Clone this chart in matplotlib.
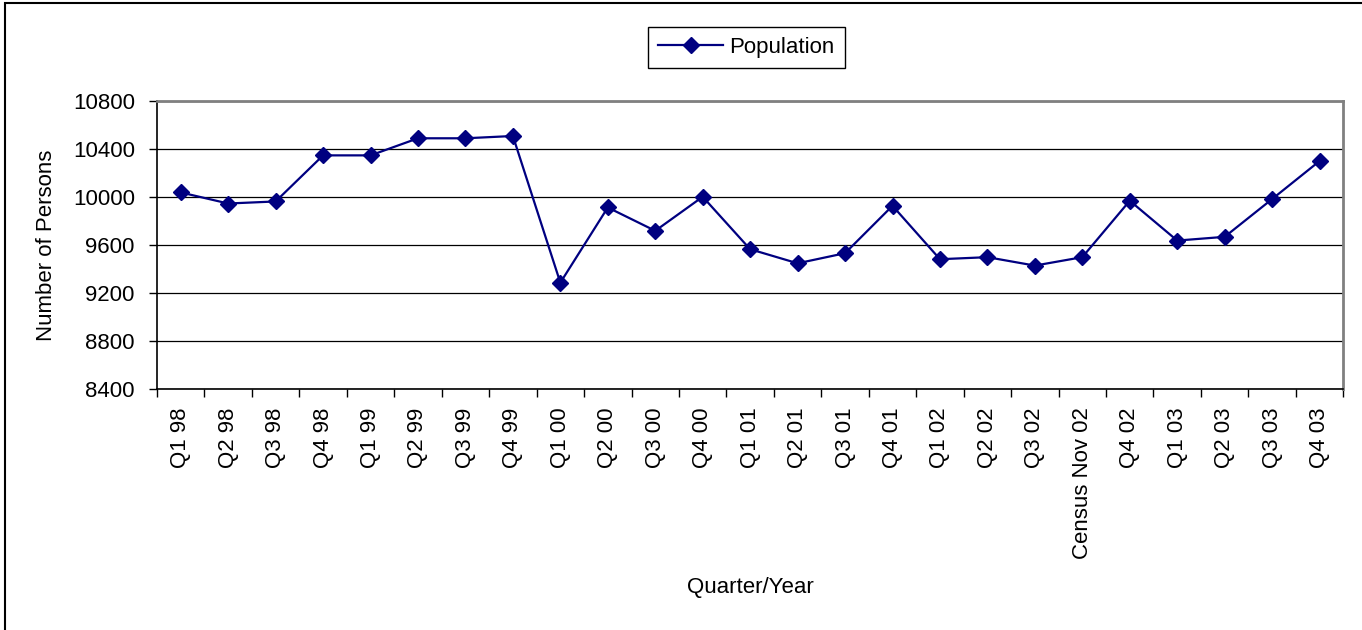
import matplotlib
matplotlib.use("Agg")
import matplotlib.pyplot as plt
import matplotlib.patches as patches
import numpy as np

plt.rcParams['font.family'] = ['Liberation Sans', 'DejaVu Sans']

# data
quarters = ["Q1 98", "Q2 98", "Q3 98", "Q4 98", "Q1 99", "Q2 99", "Q3 99", "Q4 99",
            "Q1 00", "Q2 00", "Q3 00", "Q4 00", "Q1 01", "Q2 01", "Q3 01", "Q4 01",
            "Q1 02", "Q2 02", "Q3 02", "Census Nov 02", "Q4 02", "Q1 03", "Q2 03",
            "Q3 03", "Q4 03"]
population = [10036, 9944, 9961, 10344, 10344, 10486, 10486, 10505,
              9286, 9911, 9717, 10000, 9564, 9447, 9531, 9925,
              9481, 9498, 9428, 9498, 9967, 9636, 9667, 9981, 10297]
yticks = [8400, 8800, 9200, 9600, 10000, 10400, 10800]

W, H = 1362, 630
FS = 16
fig = plt.figure(figsize=(W / 100, H / 100), dpi=100)
ax = fig.add_axes([157 / W, 1 - 389.3 / H, (1343.3 - 157) / W, (389.3 - 100.5) / H])

x = np.arange(len(quarters))
ax.plot(x, population, color="#000080", lw=1.6, marker="D", markersize=8,
        label="Population", zorder=3)

ax.set_xlim(-0.5, len(quarters) - 0.5)
ax.set_ylim(8400, 10800)
ax.set_yticks(yticks)
ax.set_yticklabels([str(v) for v in yticks], fontsize=FS)

# ticks at category boundaries, labels centred on categories
ax.set_xticks(np.arange(-0.5, len(quarters)), labels=[])
ax.set_xticks(x, labels=quarters, minor=True)
ax.tick_params(axis="x", which="major", length=6, width=1, direction="out")
ax.tick_params(axis="x", which="minor", length=0, pad=13, labelsize=FS, labelrotation=90)
ax.tick_params(axis="y", length=6, width=1, pad=10)
for lab in ax.get_xticklabels(minor=True):
    lab.set_verticalalignment("top")

ax.yaxis.grid(True, color="#000000", lw=0.9)
ax.set_axisbelow(True)

ax.spines["top"].set_color("#808080")
ax.spines["right"].set_color("#808080")
ax.spines["top"].set_linewidth(2)
ax.spines["right"].set_linewidth(2)
ax.spines["left"].set_linewidth(1.2)
ax.spines["bottom"].set_linewidth(1.2)

ax.set_ylabel("Number of Persons", fontsize=FS)
ax.yaxis.set_label_coords((57 - 157) / (1343.3 - 157), 0.5)
ax.set_xlabel("Quarter/Year", fontsize=FS)
ax.xaxis.set_label_coords(0.5, -(577 - 389.3) / (389.3 - 100.5))

leg = fig.legend(loc="upper center", bbox_to_anchor=(746.5 / W, 1 - 27 / H),
                 fontsize=FS, frameon=True, fancybox=False, edgecolor="#000000",
                 framealpha=1, handlelength=2.9, borderpad=0.45, handletextpad=0.3,
                 borderaxespad=0)
leg.get_frame().set_linewidth(1)

# outer chart border (left and top visible)
fig.patches.append(patches.Rectangle((5 / W, -0.1), 1.2, 1.1 - 3 / H,
                                     transform=fig.transFigure, fill=False,
                                     edgecolor="#000000", lw=1.5))

fig.savefig("out.png", dpi=100)
